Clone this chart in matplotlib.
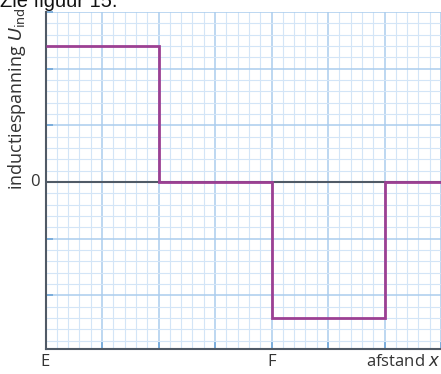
import numpy as np
import matplotlib.pyplot as plt
from matplotlib.ticker import MultipleLocator

# induced voltage while the coil moves from E past F
x_edges = [0, 2, 4, 6, 7]
u_levels = [2.4, 0, -2.4, 0]

x_labels = {0: "E", 4: "F"}

fig = plt.figure(figsize=(4.41, 3.74), dpi=100)
ax = fig.add_axes([45.5 / 441, 25 / 374, 1 - 45.5 / 441, 337 / 374])

ax.set_xlim(0, 7)
ax.set_ylim(-2.95, 3.0)

# graph paper grid
ax.xaxis.set_major_locator(MultipleLocator(1))
ax.yaxis.set_major_locator(MultipleLocator(1))
ax.xaxis.set_minor_locator(MultipleLocator(0.2))
ax.yaxis.set_minor_locator(MultipleLocator(0.2))
ax.grid(which="minor", color="#d3e5f7", lw=0.8)
ax.grid(which="major", color="#abcdee", lw=1.1)
ax.set_axisbelow(True)

for s in ["top", "right"]:
    ax.spines[s].set_visible(False)
for s in ["left", "bottom"]:
    ax.spines[s].set_color("#505a66")
    ax.spines[s].set_linewidth(1.5)

ax.tick_params(which="major", direction="in", length=5, width=1.2, color="#6fa6d8")
ax.tick_params(which="minor", length=0)
ax.set_xticklabels([])
ax.set_yticklabels([])

ax.axhline(0, color="#505a66", lw=1.5, zorder=2)

ax.stairs(u_levels, x_edges, color="#9c4093", lw=2.0, baseline=None, zorder=3)

font = "Open Sans"
fs = 12
for xv, lab in x_labels.items():
    ax.text(xv, -3.03, lab, ha="center", va="top", fontsize=fs, family=font, color="#333333")
ax.text(7.0, -3.03, "afstand $x$", ha="right", va="top", fontsize=fs, family=font, color="#333333")
ax.text(-0.1, 0, "0", ha="right", va="center", fontsize=fs, family=font, color="#333333")

fig.text(17 / 441, 1 - 99 / 374, r"inductiespanning $U_{\mathrm{ind}}$", rotation=90,
         ha="center", va="center", fontsize=13, family=font, color="#333333")

fig.text(0.0, 1 - 7 / 374, "Zie figuur 15.", ha="left", va="baseline",
         fontsize=14.5, family="Liberation Sans", color="#111111")

fig.savefig("out.png", dpi=100)
